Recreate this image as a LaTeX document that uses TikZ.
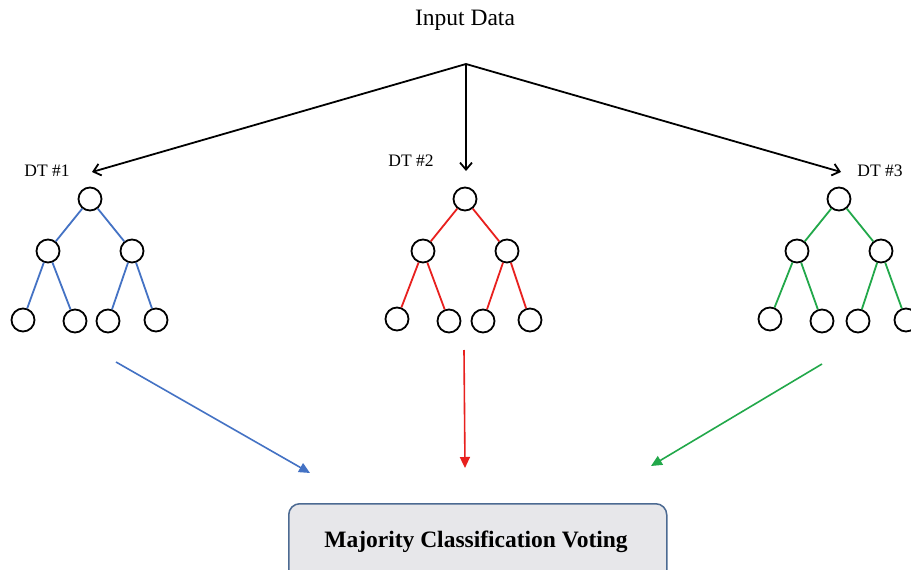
\documentclass[tikz,border=0pt]{standalone}
\usepackage{fontspec}
\setmainfont{Liberation Serif}
\usetikzlibrary{arrows.meta}
\definecolor{tblue}{HTML}{4472C4}
\definecolor{tred}{HTML}{E8201E}
\definecolor{tgreen}{HTML}{22A84A}
\definecolor{boxfill}{HTML}{E7E7EA}
\definecolor{boxdraw}{HTML}{4C6A92}
\tikzset{
  tn/.style={circle,draw=black,line width=1.8pt,minimum size=23pt,inner sep=0pt,fill=white},
  inarrow/.style={line width=1.8pt,-{Straight Barb[length=7pt,width=12pt,line width=1.8pt]}},
  outarrow/.style={line width=1.6pt,-{Triangle[length=11pt,width=10pt]}},
  treeedge/.style={line width=1.8pt},
  lbl/.style={font=\fontsize{17.5pt}{20pt}\selectfont,inner sep=0pt},
}
\begin{document}
\begin{tikzpicture}[x=1pt,y=-1pt]
\useasboundingbox (0,0) rectangle (911,570);
\fill[white] (0,0) rectangle (911,570);

\node[inner sep=0pt,font=\fontsize{23.5pt}{26pt}\selectfont] (input) at (465,20) {Input Data};
\coordinate (split) at (466,64);
\coordinate (t1) at (92,172);
\coordinate (t2) at (466,171);
\coordinate (t3) at (841,172);
\draw[inarrow] (split) -- (t1);
\draw[inarrow] (split) -- (t2);
\draw[inarrow] (split) -- (t3);

\node[lbl] (dt1) at (47,171) {DT \#1};
\node[lbl] (dt2) at (411,161) {DT \#2};
\node[lbl] (dt3) at (880,171) {DT \#3};

% Tree 1
\node[tn] (a0) at (90,199) {};
\node[tn] (a1) at (48,251) {};
\node[tn] (a2) at (132,251) {};
\node[tn] (a3) at (23,320) {};
\node[tn] (a4) at (75,321) {};
\node[tn] (a5) at (108,321) {};
\node[tn] (a6) at (156,320) {};
\draw[treeedge,tblue] (a0) -- (a1) (a0) -- (a2) (a1) -- (a3) (a1) -- (a4) (a2) -- (a5) (a2) -- (a6);

% Tree 2
\node[tn] (b0) at (465,199) {};
\node[tn] (b1) at (423,251) {};
\node[tn] (b2) at (507,251) {};
\node[tn] (b3) at (397,319) {};
\node[tn] (b4) at (449,321) {};
\node[tn] (b5) at (483,321) {};
\node[tn] (b6) at (530,320) {};
\draw[treeedge,tred] (b0) -- (b1) (b0) -- (b2) (b1) -- (b3) (b1) -- (b4) (b2) -- (b5) (b2) -- (b6);

% Tree 3
\node[tn] (c0) at (839,199) {};
\node[tn] (c1) at (797,251) {};
\node[tn] (c2) at (881,251) {};
\node[tn] (c3) at (770,319) {};
\node[tn] (c4) at (822,321) {};
\node[tn] (c5) at (858,321) {};
\node[tn] (c6) at (906,320) {};
\draw[treeedge,tgreen] (c0) -- (c1) (c0) -- (c2) (c1) -- (c3) (c1) -- (c4) (c2) -- (c5) (c2) -- (c6);

% output arrows
\coordinate (s1) at (116,362);
\coordinate (e1) at (310,473);
\coordinate (s2) at (464,350);
\coordinate (e2) at (465,468);
\coordinate (s3) at (822,364);
\coordinate (e3) at (651,466);
\draw[outarrow,tblue] (s1) -- (e1);
\draw[outarrow,tred] (s2) -- (e2);
\draw[outarrow,tgreen] (s3) -- (e3);

\node[draw=boxdraw,fill=boxfill,line width=1.5pt,rounded corners=11pt,
      minimum width=378pt,minimum height=90pt,anchor=north west] (vote) at (288,503) {};
\node[inner sep=0pt,font=\bfseries\fontsize{23.5pt}{26pt}\selectfont] (votetext) at (476,542) {Majority Classification Voting};
\end{tikzpicture}
\end{document}
